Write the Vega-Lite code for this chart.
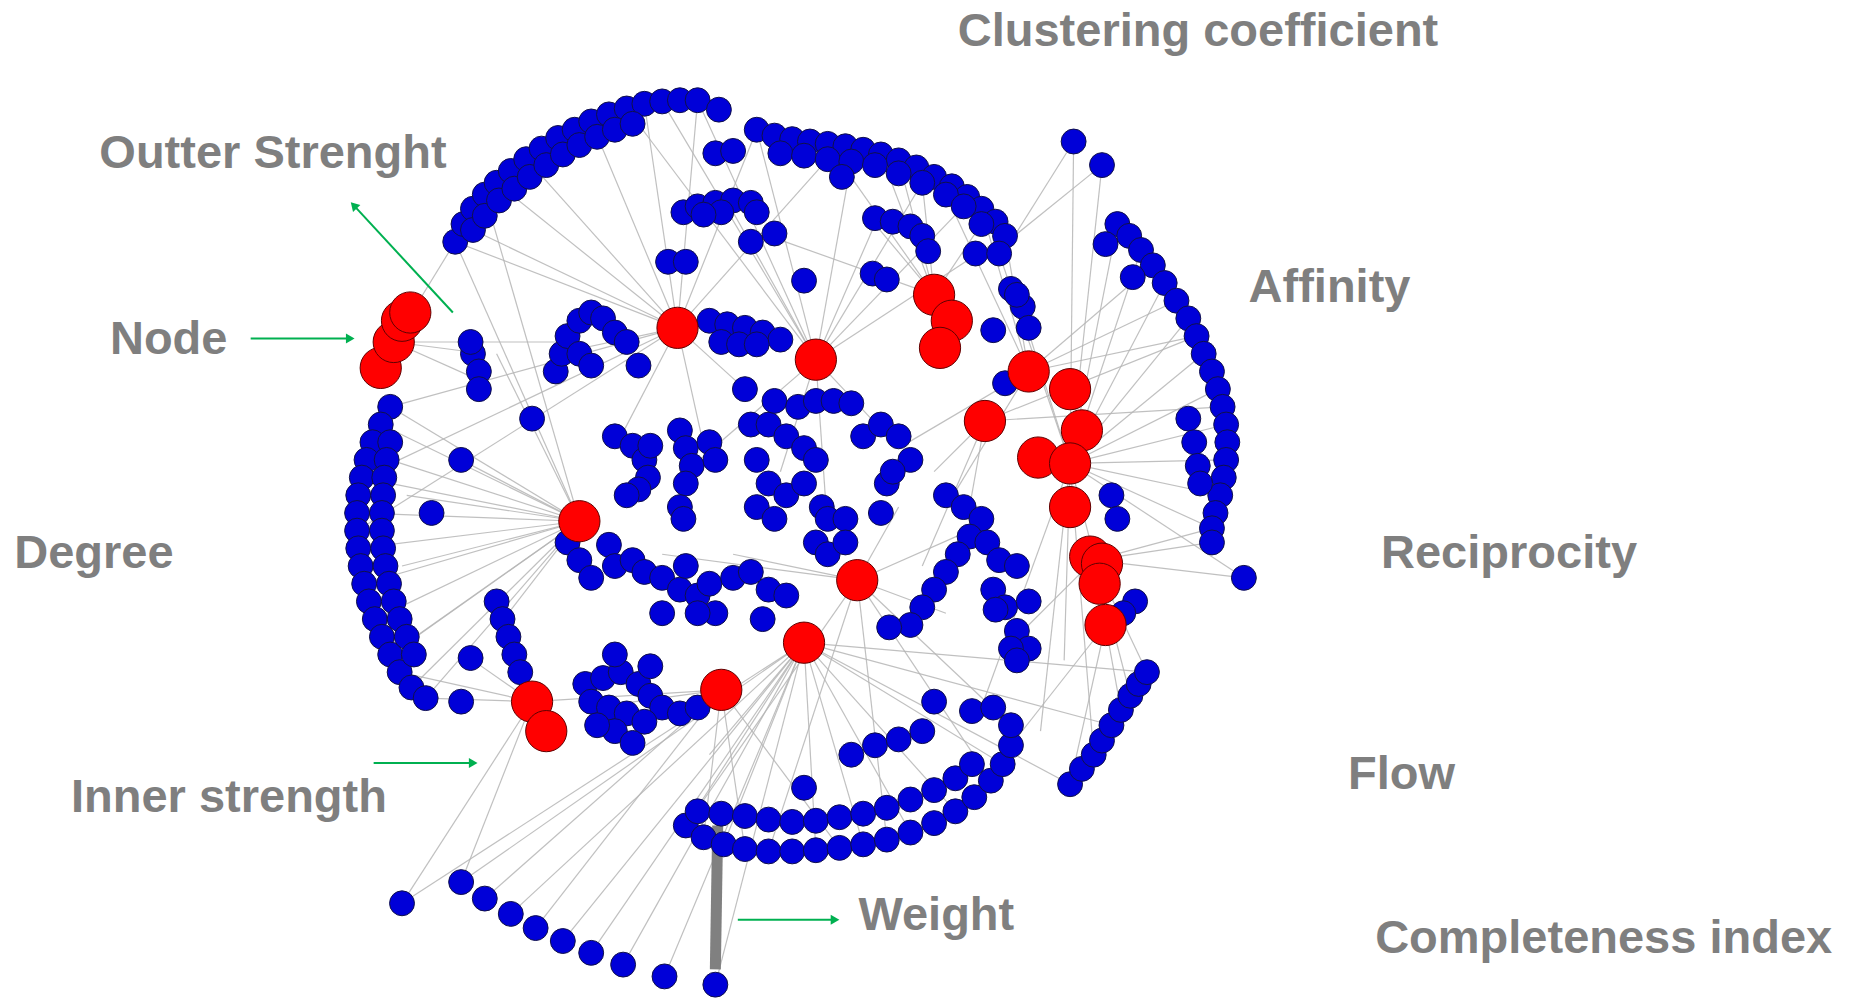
{
"$schema":"https://vega.github.io/schema/vega-lite/v6.json",
"width":1854,"height":1000,"autosize":{"type":"fit","contains":"padding"},"padding":0,
"background":"white","config":{"view":{"stroke":null}},
"datasets":{
"edges":[
{"a":573,"b":278,"c":400,"d":195},{"a":573,"b":278,"c":450,"d":140},{"a":573,"b":278,"c":500,"d":103},{"a":573,"b":278,"c":545,"d":88},{"a":573,"b":278,"c":590,"d":85},{"a":573,"b":278,"c":470,"d":300},{"a":573,"b":278,"c":520,"d":380},{"a":573,"b":278,"c":600,"d":400},{"a":573,"b":278,"c":630,"d":330},{"a":573,"b":278,"c":330,"d":345},{"a":573,"b":278,"c":306,"d":405},{"a":573,"b":278,"c":302,"d":450},{"a":573,"b":278,"c":640,"d":110},{"a":573,"b":278,"c":700,"d":135},{"a":573,"b":278,"c":420,"d":155},{"a":573,"b":278,"c":385,"d":205},
{"a":690,"b":305,"c":590,"d":85},{"a":690,"b":305,"c":640,"d":110},{"a":690,"b":305,"c":720,"d":137},{"a":690,"b":305,"c":780,"d":155},{"a":690,"b":305,"c":620,"d":180},{"a":690,"b":305,"c":740,"d":190},{"a":690,"b":305,"c":660,"d":400},{"a":690,"b":305,"c":700,"d":450},{"a":690,"b":305,"c":760,"d":380},{"a":690,"b":305,"c":580,"d":400},{"a":690,"b":305,"c":850,"d":200},{"a":690,"b":305,"c":530,"d":92},{"a":690,"b":305,"c":560,"d":86},{"a":690,"b":305,"c":815,"d":175},
{"a":490,"b":442,"c":322,"d":360},{"a":490,"b":442,"c":306,"d":405},{"a":490,"b":442,"c":302,"d":435},{"a":490,"b":442,"c":303,"d":465},{"a":490,"b":442,"c":308,"d":495},{"a":490,"b":442,"c":317,"d":525},{"a":490,"b":442,"c":330,"d":555},{"a":490,"b":442,"c":348,"d":583},{"a":490,"b":442,"c":360,"d":592},{"a":490,"b":442,"c":330,"d":345},{"a":490,"b":442,"c":385,"d":205},{"a":490,"b":442,"c":410,"d":165},{"a":490,"b":442,"c":420,"d":300},{"a":490,"b":442,"c":390,"d":390},{"a":490,"b":442,"c":430,"d":520},{"a":490,"b":442,"c":344,"d":420},{"a":490,"b":442,"c":340,"d":480},{"a":490,"b":442,"c":352,"d":540},{"a":490,"b":442,"c":330,"d":390},
{"a":725,"b":492,"c":580,"d":700},{"a":725,"b":492,"c":650,"d":722},{"a":725,"b":492,"c":750,"d":712},{"a":725,"b":492,"c":838,"d":662},{"a":725,"b":492,"c":855,"d":615},{"a":725,"b":492,"c":800,"d":520},{"a":725,"b":492,"c":820,"d":450},{"a":725,"b":492,"c":760,"d":430},{"a":725,"b":492,"c":620,"d":470},{"a":725,"b":492,"c":560,"d":470},
{"a":680,"b":545,"c":580,"d":700},{"a":680,"b":545,"c":612,"d":716},{"a":680,"b":545,"c":690,"d":721},{"a":680,"b":545,"c":770,"d":706},{"a":680,"b":545,"c":848,"d":648},{"a":680,"b":545,"c":905,"d":665},{"a":680,"b":545,"c":940,"d":615},{"a":680,"b":545,"c":970,"d":570},{"a":680,"b":545,"c":600,"d":640},{"a":680,"b":545,"c":527,"d":818},{"a":680,"b":545,"c":476,"d":798},{"a":680,"b":545,"c":432,"d":775},{"a":680,"b":545,"c":390,"d":748},{"a":680,"b":545,"c":340,"d":766},{"a":680,"b":545,"c":605,"d":835},{"a":680,"b":545,"c":562,"d":828},{"a":680,"b":545,"c":500,"d":808},{"a":680,"b":545,"c":808,"d":688},{"a":680,"b":545,"c":730,"d":716},
{"a":610,"b":585,"c":595,"d":710},{"a":610,"b":585,"c":630,"d":720},{"a":610,"b":585,"c":710,"d":719},{"a":610,"b":585,"c":500,"d":600},{"a":610,"b":585,"c":450,"d":595},{"a":610,"b":585,"c":453,"d":787},{"a":610,"b":585,"c":410,"d":762},
{"a":450,"b":595,"c":340,"d":766},{"a":450,"b":595,"c":390,"d":748},{"a":450,"b":595,"c":360,"d":592},{"a":450,"b":595,"c":338,"d":570},{"a":450,"b":595,"c":400,"d":560},
{"a":905,"b":393,"c":945,"d":190},{"a":905,"b":393,"c":965,"d":212},{"a":905,"b":393,"c":985,"d":240},{"a":905,"b":393,"c":1005,"d":270},{"a":905,"b":393,"c":1018,"d":300},{"a":905,"b":393,"c":1030,"d":330},{"a":905,"b":393,"c":1037,"d":360},{"a":905,"b":393,"c":1037,"d":390},{"a":905,"b":393,"c":1032,"d":420},{"a":905,"b":393,"c":1025,"d":448},{"a":905,"b":393,"c":1052,"d":490},{"a":905,"b":393,"c":840,"d":200},{"a":905,"b":393,"c":860,"d":250},{"a":905,"b":393,"c":932,"d":140},{"a":905,"b":393,"c":908,"d":120},{"a":905,"b":393,"c":900,"d":560},{"a":905,"b":393,"c":925,"d":640},{"a":905,"b":393,"c":956,"d":590},{"a":905,"b":393,"c":880,"d":620},{"a":905,"b":393,"c":830,"d":600},
{"a":870,"b":315,"c":850,"d":200},{"a":870,"b":315,"c":830,"d":177},{"a":870,"b":315,"c":800,"d":165},{"a":870,"b":315,"c":975,"d":225},{"a":870,"b":315,"c":995,"d":255},{"a":870,"b":315,"c":760,"d":380},{"a":870,"b":315,"c":800,"d":430},{"a":870,"b":315,"c":1012,"d":285},
{"a":790,"b":250,"c":745,"d":131},{"a":790,"b":250,"c":760,"d":136},{"a":790,"b":250,"c":780,"d":155},{"a":790,"b":250,"c":740,"d":190},{"a":790,"b":250,"c":650,"d":200},{"a":790,"b":250,"c":830,"d":190},{"a":790,"b":250,"c":700,"d":122},
{"a":833,"b":357,"c":790,"d":400},{"a":833,"b":357,"c":820,"d":430},{"a":833,"b":357,"c":780,"d":480},{"a":833,"b":357,"c":1012,"d":285},{"a":833,"b":357,"c":1034,"d":345},
{"a":925,"b":475,"c":1025,"d":460},{"a":925,"b":475,"c":1052,"d":490},{"a":925,"b":475,"c":970,"d":570},{"a":925,"b":475,"c":948,"d":602},{"a":925,"b":475,"c":860,"d":540},{"a":925,"b":475,"c":1025,"d":448},{"a":935,"b":530,"c":905,"d":665},{"a":935,"b":530,"c":855,"d":632},
{"a":333,"b":290,"c":385,"d":205},{"a":333,"b":290,"c":410,"d":300},{"a":333,"b":290,"c":400,"d":320},{"a":333,"b":290,"c":480,"d":290},{"a":858,"b":200,"c":908,"d":120},{"a":858,"b":200,"c":932,"d":140}
],
"thick":[{"a":607,"b":700,"c":605,"d":822}],
"blue":[
{"x":385,"y":205},{"x":392,"y":190},{"x":400,"y":177},{"x":410,"y":165},{"x":420,"y":155},{"x":432,"y":145},{"x":445,"y":135},{"x":458,"y":126},{"x":472,"y":117},{"x":486,"y":110},{"x":500,"y":103},{"x":515,"y":97},{"x":530,"y":92},{"x":545,"y":88},{"x":560,"y":86},{"x":575,"y":85},{"x":590,"y":85},
{"x":400,"y":195},{"x":410,"y":183},{"x":422,"y":170},{"x":435,"y":160},{"x":448,"y":150},{"x":462,"y":140},{"x":476,"y":131},{"x":490,"y":123},{"x":505,"y":116},{"x":520,"y":110},{"x":535,"y":105},
{"x":640,"y":110},{"x":655,"y":115},{"x":670,"y":118},{"x":685,"y":120},{"x":700,"y":122},{"x":715,"y":124},{"x":730,"y":127},{"x":745,"y":131},{"x":760,"y":136},{"x":775,"y":142},{"x":790,"y":150},{"x":805,"y":158},{"x":818,"y":167},{"x":830,"y":177},{"x":842,"y":188},{"x":850,"y":200},
{"x":660,"y":130},{"x":680,"y":132},{"x":700,"y":135},{"x":720,"y":137},{"x":740,"y":140},{"x":760,"y":147},{"x":780,"y":155},{"x":800,"y":165},{"x":815,"y":175},{"x":830,"y":190},
{"x":945,"y":190},{"x":955,"y":200},{"x":965,"y":212},{"x":975,"y":225},{"x":985,"y":240},{"x":995,"y":255},{"x":1005,"y":270},{"x":1012,"y":285},{"x":1018,"y":300},{"x":1025,"y":315},{"x":1030,"y":330},{"x":1034,"y":345},{"x":1037,"y":360},{"x":1038,"y":375},{"x":1037,"y":390},{"x":1035,"y":405},{"x":1032,"y":420},{"x":1028,"y":435},{"x":1025,"y":448},{"x":1025,"y":460},
{"x":1005,"y":355},{"x":1010,"y":375},{"x":1013,"y":395},{"x":1015,"y":410},
{"x":330,"y":345},{"x":322,"y":360},{"x":315,"y":375},{"x":310,"y":390},{"x":306,"y":405},{"x":303,"y":420},{"x":302,"y":435},{"x":302,"y":450},{"x":303,"y":465},{"x":305,"y":480},{"x":308,"y":495},{"x":312,"y":510},{"x":317,"y":525},{"x":323,"y":540},{"x":330,"y":555},{"x":338,"y":570},{"x":348,"y":583},{"x":360,"y":592},
{"x":330,"y":375},{"x":327,"y":390},{"x":325,"y":405},{"x":324,"y":420},{"x":323,"y":435},{"x":323,"y":450},{"x":324,"y":465},{"x":326,"y":480},{"x":329,"y":495},{"x":333,"y":510},{"x":338,"y":525},{"x":344,"y":540},{"x":350,"y":555},
{"x":580,"y":700},{"x":595,"y":710},{"x":612,"y":716},{"x":630,"y":720},{"x":650,"y":722},{"x":670,"y":722},{"x":690,"y":721},{"x":710,"y":719},{"x":730,"y":716},{"x":750,"y":712},{"x":770,"y":706},{"x":790,"y":698},{"x":808,"y":688},{"x":824,"y":676},{"x":838,"y":662},{"x":848,"y":648},{"x":855,"y":632},{"x":855,"y":615},
{"x":590,"y":688},{"x":610,"y":690},{"x":630,"y":692},{"x":650,"y":695},{"x":670,"y":697},{"x":690,"y":696},{"x":710,"y":693},{"x":730,"y":690},{"x":750,"y":685},{"x":770,"y":678},{"x":790,"y":670},{"x":808,"y":660},{"x":822,"y":648},
{"x":720,"y":640},{"x":740,"y":632},{"x":760,"y":627},{"x":780,"y":620},{"x":680,"y":668},
{"x":905,"y":665},{"x":915,"y":652},{"x":925,"y":640},{"x":932,"y":628},{"x":940,"y":615},{"x":948,"y":602},{"x":956,"y":590},{"x":963,"y":580},{"x":970,"y":570},
{"x":390,"y":748},{"x":410,"y":762},{"x":432,"y":775},{"x":453,"y":787},{"x":476,"y":798},{"x":500,"y":808},{"x":527,"y":818},{"x":562,"y":828},{"x":340,"y":766},{"x":605,"y":835},
{"x":578,"y":180},{"x":590,"y":175},{"x":605,"y":172},{"x":620,"y":170},{"x":635,"y":172},{"x":640,"y":180},{"x":610,"y":180},{"x":595,"y":182},{"x":635,"y":205},{"x":655,"y":198},{"x":565,"y":222},{"x":580,"y":222},{"x":680,"y":238},{"x":738,"y":232},{"x":750,"y":237},{"x":740,"y":185},{"x":755,"y":188},{"x":770,"y":192},{"x":780,"y":200},{"x":785,"y":213},{"x":825,"y":215},{"x":845,"y":215},{"x":855,"y":245},{"x":865,"y":260},{"x":870,"y":278},{"x":605,"y":130},{"x":620,"y":128},{"x":608,"y":93},{"x":712,"y":150},{"x":908,"y":120},{"x":932,"y":140},{"x":935,"y":207},{"x":958,"y":235},
{"x":470,"y":315},{"x":475,"y":300},{"x":480,"y":285},{"x":490,"y":272},{"x":500,"y":265},{"x":510,"y":270},{"x":520,"y":282},{"x":530,"y":290},{"x":490,"y":300},{"x":500,"y":310},{"x":540,"y":310},{"x":400,"y":300},{"x":405,"y":315},{"x":405,"y":330},{"x":398,"y":290},
{"x":600,"y":272},{"x":615,"y":275},{"x":630,"y":278},{"x":645,"y":282},{"x":660,"y":288},{"x":610,"y":290},{"x":625,"y":292},{"x":640,"y":292},
{"x":520,"y":370},{"x":535,"y":378},{"x":545,"y":390},{"x":548,"y":405},{"x":540,"y":415},{"x":530,"y":420},{"x":550,"y":378},{"x":575,"y":365},{"x":580,"y":380},{"x":585,"y":395},{"x":580,"y":410},{"x":575,"y":430},{"x":578,"y":440},{"x":600,"y":375},{"x":605,"y":390},{"x":635,"y":360},{"x":650,"y":360},{"x":665,"y":370},{"x":680,"y":380},{"x":690,"y":390},{"x":640,"y":390},{"x":650,"y":410},{"x":640,"y":430},{"x":655,"y":440},{"x":665,"y":420},{"x":680,"y":410},{"x":695,"y":430},{"x":700,"y":440},{"x":715,"y":440},{"x":690,"y":460},{"x":700,"y":470},{"x":715,"y":460},{"x":745,"y":435},{"x":750,"y":410},{"x":730,"y":370},{"x":745,"y":360},{"x":760,"y":370},{"x":770,"y":390},{"x":755,"y":400},{"x":630,"y":330},{"x":655,"y":340},{"x":675,"y":345},{"x":690,"y":340},{"x":705,"y":340},{"x":720,"y":342},{"x":450,"y":355},{"x":390,"y":390},{"x":365,"y":435},
{"x":480,"y":460},{"x":490,"y":475},{"x":500,"y":490},{"x":515,"y":462},{"x":520,"y":480},{"x":535,"y":475},{"x":545,"y":485},{"x":560,"y":490},{"x":575,"y":500},{"x":590,"y":505},{"x":580,"y":480},{"x":600,"y":495},{"x":605,"y":520},{"x":620,"y":490},{"x":635,"y":485},{"x":650,"y":500},{"x":665,"y":505},{"x":645,"y":525},{"x":590,"y":520},{"x":560,"y":520},
{"x":495,"y":580},{"x":510,"y":575},{"x":525,"y":570},{"x":540,"y":580},{"x":550,"y":590},{"x":560,"y":600},{"x":575,"y":605},{"x":590,"y":600},{"x":500,"y":595},{"x":515,"y":600},{"x":530,"y":605},{"x":545,"y":612},{"x":520,"y":620},{"x":535,"y":630},{"x":505,"y":615},{"x":550,"y":565},{"x":520,"y":555},{"x":420,"y":510},{"x":425,"y":525},{"x":430,"y":540},{"x":435,"y":555},{"x":440,"y":570},{"x":398,"y":558},{"x":390,"y":595},
{"x":800,"y":420},{"x":815,"y":430},{"x":830,"y":440},{"x":820,"y":455},{"x":810,"y":470},{"x":800,"y":485},{"x":790,"y":500},{"x":780,"y":515},{"x":770,"y":530},{"x":835,"y":460},{"x":845,"y":475},{"x":840,"y":500},{"x":850,"y":515},{"x":860,"y":535},{"x":870,"y":550},{"x":855,"y":550},{"x":842,"y":517},{"x":870,"y":510},{"x":860,"y":480},{"x":752,"y":532},{"x":790,"y":595},{"x":822,"y":603},{"x":840,"y":600},{"x":860,"y":560},{"x":860,"y":250},{"x":840,"y":280},{"x":850,"y":325},{"x":940,"y":420},{"x":945,"y":440},{"x":960,"y":510},{"x":950,"y":520},{"x":1052,"y":490}
],
"red":[
{"x":322,"y":312},{"x":333,"y":290},{"x":340,"y":272},{"x":347,"y":265},{"x":573,"y":278},{"x":690,"y":305},{"x":790,"y":250},{"x":805,"y":272},{"x":795,"y":295},{"x":870,"y":315},{"x":905,"y":330},{"x":915,"y":365},{"x":878,"y":388},{"x":905,"y":393},{"x":905,"y":430},{"x":833,"y":357},{"x":490,"y":442},{"x":725,"y":492},{"x":680,"y":545},{"x":610,"y":585},{"x":450,"y":595},{"x":462,"y":620},{"x":922,"y":472},{"x":932,"y":478},{"x":930,"y":495},{"x":935,"y":530}
],
"labels":[
{"x":810,"y":27,"s":"Clustering coefficient"},{"x":84,"y":131,"s":"Outter Strenght"},{"x":1056,"y":244,"s":"Affinity"},{"x":93,"y":288,"s":"Node"},{"x":12,"y":470,"s":"Degree"},{"x":1168,"y":470,"s":"Reciprocity"},{"x":1140,"y":657,"s":"Flow"},{"x":60,"y":677,"s":"Inner strength"},{"x":726,"y":777,"s":"Weight"},{"x":1163,"y":796,"s":"Completeness index"}
],
"arrows":[
{"a":383,"b":265,"c":300,"d":175,"ang":317},{"a":212,"b":287,"c":295,"d":287,"ang":90},{"a":316,"b":647,"c":399,"d":647,"ang":90},{"a":624,"b":780,"c":705,"d":780,"ang":90}
]
},
"layer":[
{"data":{"name":"edges"},"mark":{"type":"rule","color":"#b5b5b5","strokeWidth":1.2,"opacity":0.85},
 "encoding":{"x":{"field":"a","type":"quantitative","scale":{"domain":[0,1568],"nice":false,"zero":false},"axis":null},"y":{"field":"b","type":"quantitative","scale":{"domain":[0,848],"nice":false,"zero":false,"reverse":true},"axis":null},"x2":{"field":"c"},"y2":{"field":"d"}}},
{"data":{"name":"thick"},"mark":{"type":"rule","color":"#808080","strokeWidth":11},
 "encoding":{"x":{"field":"a","type":"quantitative"},"y":{"field":"b","type":"quantitative"},"x2":{"field":"c"},"y2":{"field":"d"}}},
{"data":{"name":"arrows"},"mark":{"type":"rule","color":"#00b050","strokeWidth":2},
 "encoding":{"x":{"field":"a","type":"quantitative"},"y":{"field":"b","type":"quantitative"},"x2":{"field":"c"},"y2":{"field":"d"}}},
{"data":{"name":"arrows"},"mark":{"type":"point","shape":"triangle","filled":true,"color":"#00b050","size":100,"opacity":1},
 "encoding":{"x":{"field":"c","type":"quantitative"},"y":{"field":"d","type":"quantitative"},"angle":{"field":"ang","type":"quantitative","scale":null}}},
{"data":{"name":"blue"},"mark":{"type":"circle","size":620,"color":"#0000d8","stroke":"#10104a","strokeWidth":1,"opacity":1},
 "encoding":{"x":{"field":"x","type":"quantitative"},"y":{"field":"y","type":"quantitative"}}},
{"data":{"name":"red"},"mark":{"type":"circle","size":1700,"color":"#ff0000","stroke":"#600000","strokeWidth":1,"opacity":1},
 "encoding":{"x":{"field":"x","type":"quantitative"},"y":{"field":"y","type":"quantitative"}}},
{"data":{"name":"labels"},"mark":{"type":"text","align":"left","baseline":"middle","font":"Liberation Sans","fontWeight":"bold","fontSize":47,"color":"#7f7f7f"},
 "encoding":{"x":{"field":"x","type":"quantitative"},"y":{"field":"y","type":"quantitative"},"text":{"field":"s"}}}
]
}
